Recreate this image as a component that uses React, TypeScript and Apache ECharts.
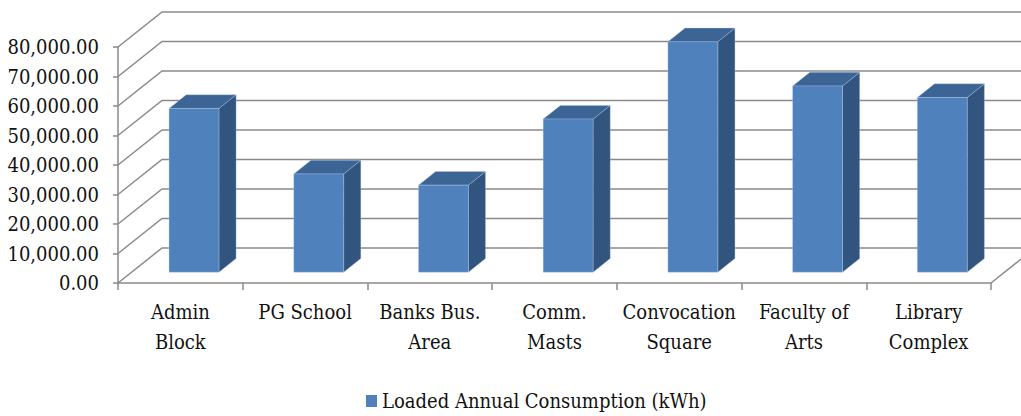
import React, { useEffect, useRef } from "react";
import * as echarts from "echarts";

const categories = [
  "Admin\nBlock",
  "PG School",
  "Banks Bus.\nArea",
  "Comm.\nMasts",
  "Convocation\nSquare",
  "Faculty of\nArts",
  "Library\nComplex",
];
const consumption = [55500, 33300, 29500, 51900, 78100, 63100, 59200];
const yTicks = [0, 10000, 20000, 30000, 40000, 50000, 60000, 70000, 80000];
const seriesName = "Loaded Annual Consumption (kWh)";

const DEPTH_X = 44;
const DEPTH_Y = -35;
const F_FRONT = 0.31;
const F_BACK = 0.7;
const FONT = "DejaVu Serif Condensed";

export default function App() {
  const ref = useRef<HTMLDivElement>(null);
  useEffect(() => {
    document.body.style.margin = "0";
    const chart = echarts.init(ref.current!, null, { renderer: "svg" });
    const gridColor = "#8a8a8a";
    chart.setOption({
      animation: false,
      backgroundColor: "#ffffff",
      textStyle: { fontFamily: FONT },
      grid: { left: 118, right: 30, top: 47, bottom: 133, outerBoundsMode: "none", containLabel: false },
      legend: {
        data: [{ name: seriesName, icon: "rect" }],
        left: 361,
        top: 386,
        itemWidth: 11,
        itemHeight: 12,
        itemGap: 4,
        textStyle: { fontFamily: FONT, fontSize: 20, color: "#111" },
      },
      xAxis: {
        type: "category",
        data: categories,
        boundaryGap: true,
        axisLine: { show: true, lineStyle: { color: gridColor, width: 1.5 } },
        axisTick: { show: true, length: 7, lineStyle: { color: gridColor, width: 1.5 } },
        axisLabel: {
          interval: 0,
          margin: 14,
          fontFamily: FONT,
          fontSize: 20,
          lineHeight: 30,
          color: "#111",
        },
        splitLine: { show: false },
      },
      yAxis: {
        type: "value",
        min: 0,
        max: 80000,
        interval: 10000,
        axisLine: { show: true, lineStyle: { color: gridColor, width: 1.5 } },
        axisTick: { show: true, length: 5, lineStyle: { color: gridColor, width: 1.5 } },
        axisLabel: {
          margin: 19,
          fontFamily: FONT,
          fontSize: 20,
          color: "#111",
          formatter: (v: number) =>
            v.toLocaleString("en-US", { minimumFractionDigits: 2, maximumFractionDigits: 2 }),
        },
        splitLine: { show: false },
      },
      series: [
        {
          type: "custom",
          name: "walls",
          silent: true,
          z: 1,
          data: yTicks.map((v) => [0, v]),
          encode: { x: 0, y: 1 },
          renderItem: (params: any, api: any) => {
            const cs = params.coordSys;
            const v = api.value(1);
            const y = api.coord([0, v])[1];
            const left = cs.x;
            const right = cs.x + cs.width;
            const children: any[] = [
              {
                type: "polyline",
                shape: {
                  points: [
                    [left, y],
                    [left + DEPTH_X, y + DEPTH_Y],
                    [right + DEPTH_X, y + DEPTH_Y],
                  ],
                },
                style: { stroke: gridColor, lineWidth: 1.5, fill: null },
              },
            ];
            if (v === 0) {
              children.push({
                type: "line",
                shape: { x1: right, y1: y, x2: right + DEPTH_X, y2: y + DEPTH_Y },
                style: { stroke: gridColor, lineWidth: 1.5 },
              });
            }
            return { type: "group", children };
          },
          tooltip: { show: false },
        },
        {
          type: "custom",
          name: seriesName,
          z: 2,
          itemStyle: { color: "#4F81BD" },
          data: consumption.map((v, i) => [i, v]),
          encode: { x: 0, y: 1 },
          renderItem: (params: any, api: any) => {
            const i = api.value(0);
            const v = api.value(1);
            const top = api.coord([i, v]);
            const base = api.coord([i, 0]);
            const band = api.size([1, 0])[0];
            const w = band * 0.4;
            const ox = F_FRONT * DEPTH_X;
            const oy = F_FRONT * DEPTH_Y;
            const dx = (F_BACK - F_FRONT) * DEPTH_X;
            const dy = (F_BACK - F_FRONT) * DEPTH_Y;
            const xl = top[0] - w / 2 + ox;
            const xr = xl + w;
            const yt = top[1] + oy;
            const yb = base[1] + oy;
            const edge = "rgba(180,205,235,0.55)";
            return {
              type: "group",
              children: [
                {
                  type: "polygon",
                  shape: {
                    points: [
                      [xr, yt],
                      [xr, yb],
                      [xr + dx, yb + dy],
                      [xr + dx, yt + dy],
                    ],
                  },
                  style: { fill: "#32557F", stroke: edge, lineWidth: 0.6 },
                },
                {
                  type: "polygon",
                  shape: {
                    points: [
                      [xl, yt],
                      [xr, yt],
                      [xr + dx, yt + dy],
                      [xl + dx, yt + dy],
                    ],
                  },
                  style: { fill: "#3C6494", stroke: edge, lineWidth: 0.6 },
                },
                {
                  type: "rect",
                  shape: { x: xl, y: yt, width: w, height: yb - yt },
                  style: { fill: "#4F81BD", stroke: edge, lineWidth: 0.6 },
                },
              ],
            };
          },
        },
      ],
    });
    return () => chart.dispose();
  }, []);
  return <div ref={ref} style={{ width: 1021, height: 416 }} />;
}
